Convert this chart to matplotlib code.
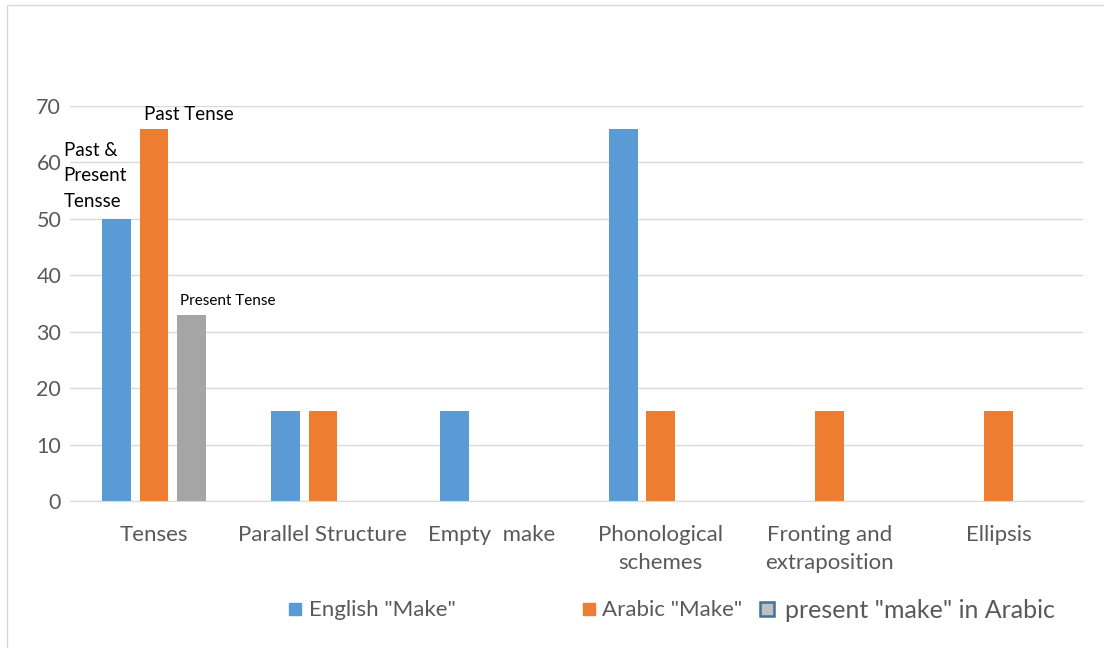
import numpy as np
import matplotlib.pyplot as plt
from matplotlib.patches import Rectangle
from matplotlib.lines import Line2D

categories = ["Tenses", "Parallel Structure", "Empty  make", "Phonological\nschemes",
              "Fronting and\nextraposition", "Ellipsis"]
english = [50, 16, 16, 66, 0, 0]
arabic = [66, 16, 0, 16, 16, 16]
present = [33, 0, 0, 0, 0, 0]

plt.rcParams['font.family'] = ['Lato', 'DejaVu Sans']

fig = plt.figure(figsize=(11.04, 6.48), dpi=100)
ax = fig.add_axes([0.063, 0.2269, 0.918, 0.6095])

x = np.arange(len(categories))
w = 0.17
off = 0.222
ax.bar(x - off, english, w, color="#5b9bd5", label='English "Make"')
ax.bar(x, arabic, w, color="#ed7d31", label='Arabic "Make"')
ax.bar(x + off, present, w, color="#a5a5a5", label='present "make" in Arabic')

ax.set_xlim(-0.5, len(categories) - 0.5)
ax.set_ylim(0, 70)
ax.set_yticks(range(0, 71, 10))
ax.set_xticks(x)
ax.set_xticklabels(categories, fontsize=16, color="#595959", linespacing=1.5)
ax.tick_params(axis="y", labelsize=15.5, colors="#595959", length=0, pad=6)
ax.tick_params(axis="x", length=0, pad=17)
ax.grid(axis="y", color="#d9d9d9", linewidth=1)
ax.set_axisbelow(True)
for s in ["top", "right", "left"]:
    ax.spines[s].set_visible(False)
ax.spines["bottom"].set_color("#d9d9d9")

ax.text(-0.5 - 0.035, 51.6, "Past &\nPresent\nTensse", fontsize=13.5, va="bottom", ha="left",
        linespacing=1.6)
ax.text(0 - 0.06, 67.0, "Past Tense", fontsize=13.5, va="bottom", ha="left")
ax.text(0.155, 34.2, "Present Tense", fontsize=11, va="bottom", ha="left")

# legend
handles = [
    Line2D([], [], marker="s", linestyle="none", markersize=8, color="#5b9bd5"),
    Line2D([], [], marker="s", linestyle="none", markersize=8, color="#ed7d31"),
    Line2D([], [], marker="s", linestyle="none", markersize=10, markerfacecolor="#c0c0c0",
           markeredgecolor="#41719c", markeredgewidth=1.8),
]
leg_y = 0.058
fig.legend(handles[:1], ['English "Make"'], loc="center left", bbox_to_anchor=(0.229, leg_y),
           frameon=False, fontsize=16, handletextpad=-0.35, labelcolor="#595959")
fig.legend(handles[1:2], ['Arabic "Make"'], loc="center left", bbox_to_anchor=(0.495, leg_y),
           frameon=False, fontsize=16, handletextpad=-0.4, labelcolor="#595959")
fig.legend(handles[2:], ['present "make" in Arabic'], loc="center left",
           bbox_to_anchor=(0.652, leg_y), frameon=False, fontsize=18, handletextpad=-0.3,
           labelcolor="#595959")

fig.patches.append(Rectangle((0.0065, -0.01), 1.1, 1.002, transform=fig.transFigure,
                             fill=False, edgecolor="#d9d9d9", linewidth=1))

fig.savefig("out.png", dpi=100)
